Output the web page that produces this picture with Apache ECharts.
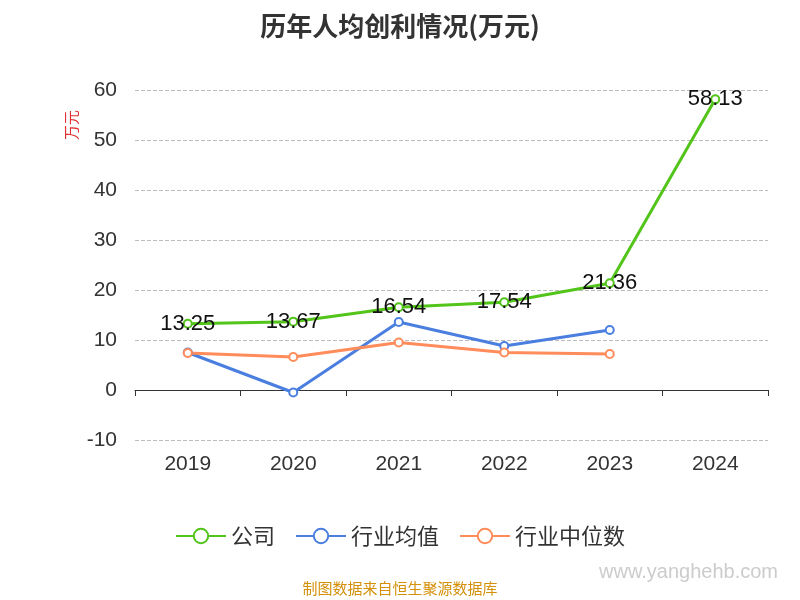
<!DOCTYPE html><html><head><meta charset="utf-8"><script src="https://cdn.jsdelivr.net/npm/echarts@6/dist/echarts.min.js"></script></head><body style="margin:0"><div id="c" style="width:800px;height:600px"></div><script>
const categories=['2019','2020','2021','2022','2023','2024'];
const company=[13.25,13.67,16.54,17.54,21.36,58.13];
const industryAvg=[7.5,-0.5,13.6,8.8,12.0,null];
const industryMedian=[7.4,6.6,9.5,7.5,7.2,null];
const ch=echarts.init(document.getElementById('c'));
ch.setOption({
title:{text:'历年人均创利情况(万元)',left:'center',top:8,textStyle:{fontSize:26,fontWeight:'bold',color:'#333',fontFamily:'Noto Sans CJK SC'}},
legend:{bottom:48,itemWidth:50,itemHeight:18,itemGap:20,textStyle:{fontSize:22,color:'#333',fontFamily:'Noto Sans CJK SC'},data:['公司','行业均值','行业中位数']},
graphic:[{type:'text',left:'center',bottom:4,style:{text:'制图数据来自恒生聚源数据库',fill:'#d4900a',fontSize:15,fontFamily:'Noto Sans CJK SC'}},
{type:'text',right:22,bottom:18,style:{text:'www.yanghehb.com',fill:'#ccc',fontSize:20}},
{type:'text',x:64,y:140,rotation:Math.PI/2,style:{text:'万元',fill:'#e03030',fontSize:15,fontFamily:'Noto Sans CJK SC'}}],
grid:{left:135,right:32,top:90,bottom:160},
xAxis:{type:'category',data:categories,axisLine:{onZero:true,lineStyle:{color:'#333'}},axisTick:{show:true,length:6},axisLabel:{fontSize:21,color:'#333',margin:14}},
yAxis:{type:'value',min:-10,max:60,interval:10,axisLine:{show:false},axisLabel:{fontSize:21,color:'#333',margin:18},splitLine:{lineStyle:{type:'dashed',color:'#bbb'}}},
series:[
{name:'公司',type:'line',data:company,color:'#52c41a',symbol:'circle',symbolSize:8,itemStyle:{color:'#fff',borderColor:'#52c41a',borderWidth:2},lineStyle:{width:3,color:'#52c41a'},label:{show:true,position:'inside',fontSize:22,color:'#111'}},
{name:'行业均值',type:'line',data:industryAvg,color:'#4a7fe0',symbol:'circle',symbolSize:8,itemStyle:{color:'#fff',borderColor:'#4a7fe0',borderWidth:2},lineStyle:{width:3,color:'#4a7fe0'}},
{name:'行业中位数',type:'line',data:industryMedian,color:'#ff8c5a',symbol:'circle',symbolSize:8,itemStyle:{color:'#fff',borderColor:'#ff8c5a',borderWidth:2},lineStyle:{width:3,color:'#ff8c5a'}}
]});
</script></body></html>
